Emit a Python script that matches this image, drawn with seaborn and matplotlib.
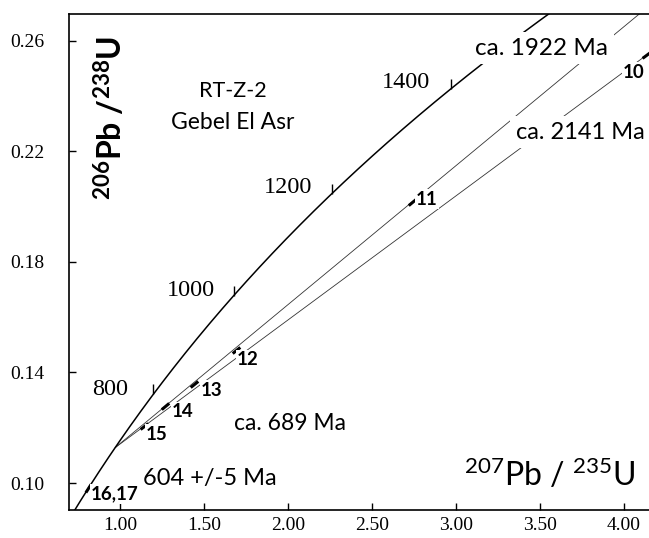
import numpy as np
import pandas as pd
import matplotlib
matplotlib.use("Agg")
import matplotlib.pyplot as plt
import seaborn as sns

# ---- constants / data ----
LAMBDA_238 = 1.55125e-10   # 1/yr
LAMBDA_235 = 9.8485e-10    # 1/yr

concordia_age_range = [540, 1600]          # Ma, span of the drawn concordia
concordia_tick_ages = [800, 1000, 1200, 1400]
lower_intercept_age = 689
upper_intercept_ages = [1922, 2141]
upper_intercept_labels = ["ca. 1922 Ma", "ca. 2141 Ma"]

point_labels = ["10", "11", "12", "13", "14", "15", "16,17"]
point_x = [4.13, 2.74, 1.69, 1.44, 1.27, 1.14, 0.81]      # 207Pb/235U
point_y = [0.2548, 0.2017, 0.1480, 0.1358, 0.1280, 0.1207, 0.0981]  # 206Pb/238U

x_ticks = [1.00, 1.50, 2.00, 2.50, 3.00, 3.50, 4.00]
y_ticks = [0.10, 0.14, 0.18, 0.22, 0.26]


def conc_x(t_ma):
    return np.exp(LAMBDA_235 * np.asarray(t_ma) * 1e6) - 1


def conc_y(t_ma):
    return np.exp(LAMBDA_238 * np.asarray(t_ma) * 1e6) - 1


sns.set_theme(style="white")
plt.rcParams["mathtext.default"] = "regular"
plt.rcParams["text.color"] = "black"

SERIF = "Liberation Serif"
SANS = "Lato"

fig = plt.figure(figsize=(6.49, 5.38), dpi=100)
ax = fig.add_axes([0.107, 0.0528, 0.893, 0.9217])
ax.set_xlim(0.699, 4.149)
ax.set_ylim(0.0904, 0.2697)

# concordia curve
ages = np.linspace(concordia_age_range[0], concordia_age_range[1], 500)
conc = pd.DataFrame({"x": conc_x(ages), "y": conc_y(ages)})
sns.lineplot(data=conc, x="x", y="y", sort=False, estimator=None,
             color="black", linewidth=1.1, ax=ax, zorder=3)

# discordia lines
lx, ly = conc_x(lower_intercept_age), conc_y(lower_intercept_age)
for t_up in upper_intercept_ages:
    ux, uy = conc_x(t_up), conc_y(t_up)
    d = pd.DataFrame({"x": [lx, ux], "y": [ly, uy]})
    sns.lineplot(data=d, x="x", y="y", sort=False, estimator=None,
                 color="#333333", linewidth=0.6, ax=ax, zorder=2)

# concordia age ticks
ax.plot(conc_x(concordia_tick_ages), conc_y(concordia_tick_ages),
        linestyle="none", marker=2, markersize=7, markeredgewidth=1.0,
        color="black", zorder=4)
tick_label_pos = {800: (1.048, 0.1340), 1000: (1.565, 0.1698),
                  1200: (2.143, 0.2070), 1400: (2.845, 0.2450)}
for age in concordia_tick_ages:
    tx, ty = tick_label_pos[age]
    ax.text(tx, ty, str(age), ha="right", va="center", fontsize=17.5,
            family=SERIF, color="black", zorder=5)

# data points (small ellipses elongated along the lines)
fig.canvas.draw()
T = ax.transData
for lab, px, py in zip(point_labels, point_x, point_y):
    if lab == "16,17":
        a, b = T.transform((conc_x(590), conc_y(590))), T.transform((conc_x(620), conc_y(620)))
    else:
        a, b = T.transform((lx, ly)), T.transform((px, py))
    ang = np.degrees(np.arctan2(b[1] - a[1], b[0] - a[0]))
    ax.plot([px], [py], linestyle="none", marker=(2, 0, ang - 90),
            markersize=7, markeredgewidth=2.2, color="black", zorder=6)

point_label_pos = {"10": (3.994, 0.2486), "11": (2.762, 0.2027),
                   "12": (1.696, 0.1448), "13": (1.482, 0.1336),
                   "14": (1.310, 0.1260), "15": (1.155, 0.1177),
                   "16,17": (0.827, 0.0960)}
for lab in point_labels:
    tx, ty = point_label_pos[lab]
    ax.text(tx, ty, lab, ha="left", va="center", fontsize=13.5,
            fontweight="bold", family=SANS, color="black", zorder=7,
            bbox=dict(facecolor="white", edgecolor="none", pad=0.8))

# intercept labels (white boxes break the lines as in the figure)
ax.text(3.113, 0.2573, upper_intercept_labels[0], ha="left", va="center",
        fontsize=17.5, family=SANS, color="black", zorder=8,
        bbox=dict(facecolor="white", edgecolor="none", pad=4))
ax.text(3.355, 0.2269, upper_intercept_labels[1], ha="left", va="center",
        fontsize=17, family=SANS, color="black", zorder=8,
        bbox=dict(facecolor="white", edgecolor="none", pad=4))
ax.text(1.679, 0.1214, "ca. %d Ma" % lower_intercept_age, ha="left",
        va="center", fontsize=16.5, family=SANS, color="black", zorder=8)
ax.text(1.137, 0.1015, "604 +/-5 Ma", ha="left", va="center",
        fontsize=17, family=SANS, color="black", zorder=8)

ax.text(1.673, 0.2417, "RT-Z-2", ha="center", va="center", fontsize=15.5,
        family=SANS, color="black")
ax.text(1.673, 0.2305, "Gebel El Asr", ha="center", va="center",
        fontsize=16.5, family=SANS, color="black")

# axis titles placed inside the frame
ax.text(3.048, 0.1032, "$^{207}$Pb / $^{235}$U", ha="left", va="center",
        fontsize=23, family=SANS, color="black", zorder=8)
ax.text(0.94, 0.2320, "$^{206}$Pb /$^{238}$U", ha="center", va="center",
        rotation=90, fontsize=23, family=SANS, fontweight="bold",
        color="black", zorder=8)

ax.set_xlabel("")
ax.set_ylabel("")
ax.set_xticks(x_ticks)
ax.set_xticklabels(["%.2f" % v for v in x_ticks])
ax.set_yticks(y_ticks)
ax.set_yticklabels(["%.2f" % v for v in y_ticks])
ax.tick_params(axis="both", direction="in", length=5, width=1.0,
               colors="black", labelsize=14)
ax.tick_params(axis="x", pad=5, bottom=True)
ax.tick_params(axis="y", pad=18, left=True)
for lbl in ax.get_xticklabels() + ax.get_yticklabels():
    lbl.set_family(SERIF)

for side in ["left", "bottom", "top"]:
    ax.spines[side].set_visible(True)
    ax.spines[side].set_color("black")
    ax.spines[side].set_linewidth(1.2)
ax.spines["right"].set_visible(False)
ax.grid(False)

fig.savefig("out.png", dpi=100)
